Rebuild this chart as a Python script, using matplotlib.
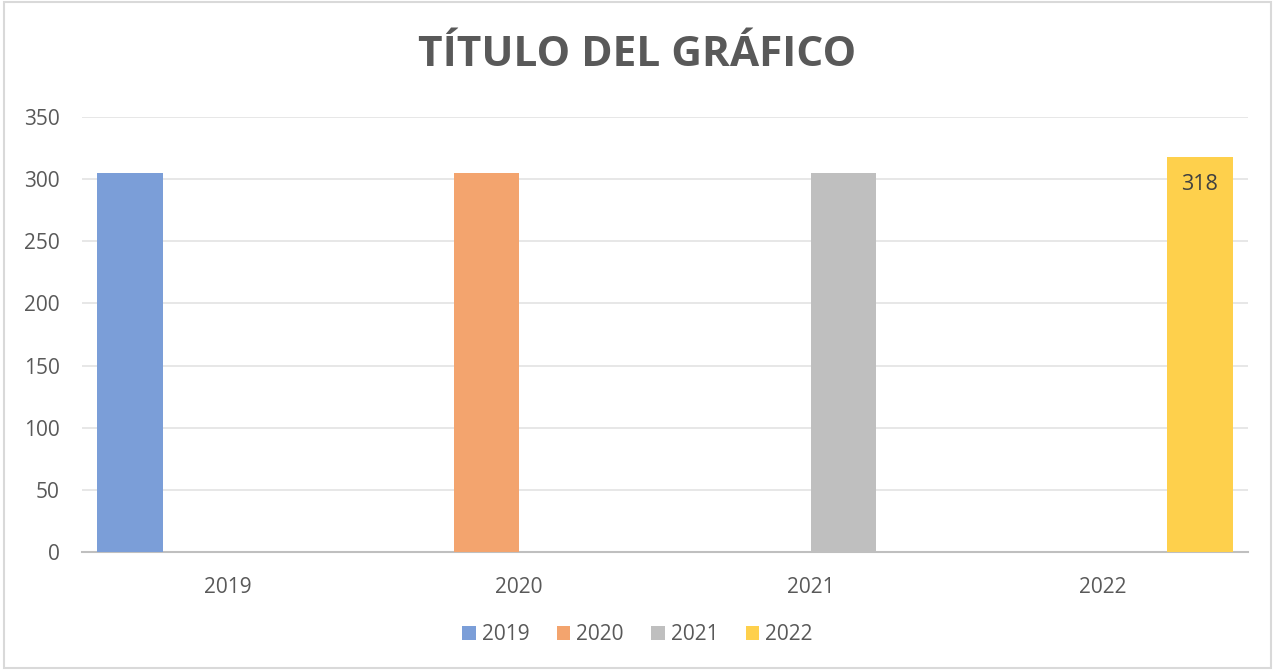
import numpy as np
import matplotlib.pyplot as plt
from matplotlib.patches import Rectangle

plt.rcParams['font.family'] = ['Open Sans', 'DejaVu Sans']

categories = ['2019', '2020', '2021', '2022']
series_names = ['2019', '2020', '2021', '2022']
# one value per series, each only in its own year
series_values = [
    [305, 0, 0, 0],
    [0, 305, 0, 0],
    [0, 0, 305, 0],
    [0, 0, 0, 318],
]
colors = ['#7B9ED8', '#F3A46E', '#BFBFBF', '#FED04C']

fig = plt.figure(figsize=(12.75, 6.7), dpi=100)
ax = fig.add_axes([82 / 1275, 1 - 552 / 670, (1248 - 82) / 1275, (552 - 117) / 670])

x = np.arange(len(categories))
w = 0.2235
bars = []
for i, (name, vals) in enumerate(zip(series_names, series_values)):
    b = ax.bar(x + (i - 1.5) * w, vals, width=w, color=colors[i], label=name, zorder=3)
    bars.append(b)

# data label on the 2022 bar only
b22 = bars[3][3]
ax.text(b22.get_x() + b22.get_width() / 2, series_values[3][3] - 22,
        f'{series_values[3][3]}', ha='center', va='center',
        fontsize=15.5, color='#404040', zorder=4)

ax.set_xlim(-0.5, 3.5)
ax.set_ylim(0, 350)
ax.set_yticks(range(0, 351, 50))
ax.set_xticks(x)
ax.set_xticklabels(categories)
ax.yaxis.grid(True, color='#E3E3E3', linewidth=1.2, zorder=0)
for s in ['top', 'right', 'left']:
    ax.spines[s].set_visible(False)
ax.spines['bottom'].set_color('#BFBFBF')
ax.spines['bottom'].set_linewidth(1.5)
ax.tick_params(axis='both', length=0, labelsize=15, labelcolor='#595959')
ax.tick_params(axis='x', pad=18)
ax.tick_params(axis='y', pad=16)

fig.suptitle('TÍTULO DEL GRÁFICO', y=1 - 56 / 670, va='center',
             fontsize=30.5, fontweight='bold', color='#595959')

leg = fig.legend(loc='center', bbox_to_anchor=(0.5, 1 - 635 / 670), ncol=4,
                 frameon=False, fontsize=15, handlelength=0.65, handleheight=0.65,
                 handletextpad=0.3, columnspacing=1.3)
for t in leg.get_texts():
    t.set_color('#595959')

# chart border
fig.patches.append(Rectangle((4 / 1275, 2 / 670), 1 - 8 / 1275, 1 - 4 / 670,
                             transform=fig.transFigure, fill=False,
                             edgecolor='#D9D9D9', linewidth=1.5))

fig.savefig('out.png', dpi=100)
